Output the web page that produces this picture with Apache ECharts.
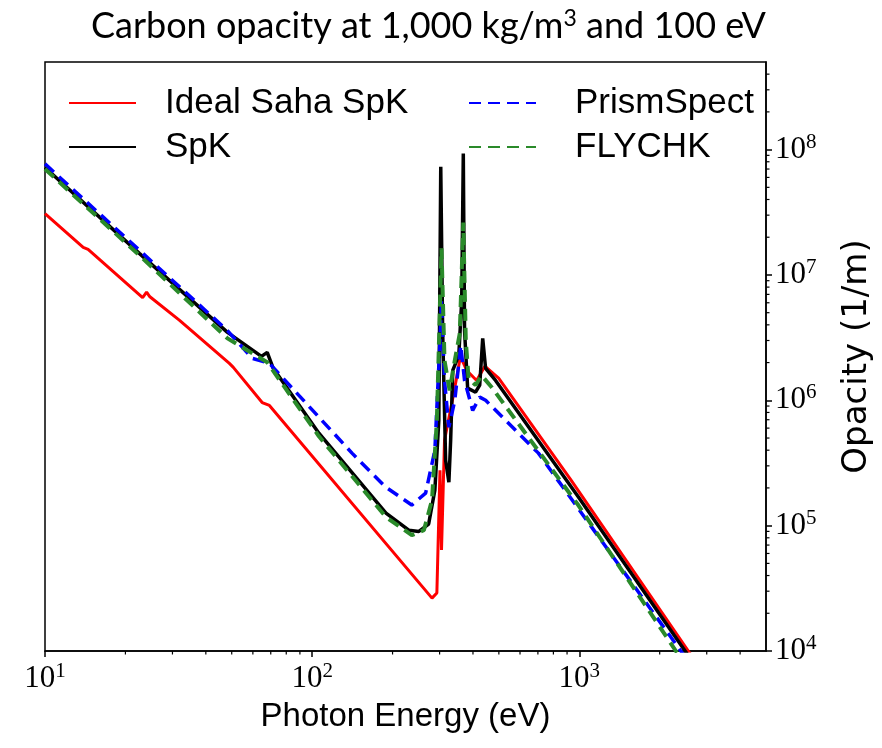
<!DOCTYPE html>
<html>
<head>
<meta charset="utf-8">
<title>Carbon opacity</title>
<script src="https://cdn.jsdelivr.net/npm/echarts@6.0.0/dist/echarts.min.js"></script>
<style>
  html, body { margin: 0; padding: 0; background: #fff; }
  #main { width: 882px; height: 748px; }
</style>
</head>
<body>
<div id="main"></div>
<script>
// photon energy (eV) / opacity (1/m)
const energySaha = [10, 13.9, 14.5, 23.2, 24.0, 24.7, 31.9, 49.0, 50.7, 65.0, 69.2, 281, 293, 301, 305, 313, 339, 359, 379, 413, 443, 499, 933, 2560, 5000];
const opacitySaha = [3.09e7, 1.66e7, 1.60e7, 6.6e6, 7.3e6, 6.7e6, 4.34e6, 1.97e6, 1.83e6, 9.6e5, 9.1e5, 2.64e4, 2.90e4, 2.77e5, 6.4e4, 4.8e5, 1.14e6, 2.24e6, 1.73e6, 1.44e6, 1.87e6, 1.50e6, 2.3e5, 1.0e4, 1.25e3];

const energySpK = [10, 22.6, 48.2, 64.6, 67.9, 71.5, 106, 189, 230, 251, 273, 288, 298, 303, 308, 316, 325, 330, 336, 354, 363, 368, 372, 382, 409, 424, 435, 446, 486, 991, 2490, 5000];
const opacitySpK = [7.2e7, 1.48e7, 3.48e6, 2.24e6, 2.41e6, 1.80e6, 5.46e5, 1.26e5, 9.2e4, 9.0e4, 1.03e5, 1.92e5, 6.9e5, 7.3e7, 3.6e6, 3.33e5, 2.22e5, 4.8e5, 1.73e6, 2.28e6, 6.27e6, 9.3e7, 3.6e6, 1.25e6, 1.16e6, 1.32e6, 3.12e6, 1.80e6, 1.44e6, 1.7e5, 1.0e4, 1.2e3];

const energyPrism = [10, 22.6, 48.2, 59.7, 69.2, 141, 188, 236, 266, 288, 301, 305, 313, 325, 342, 360, 372, 399, 424, 446, 703, 2400, 5000];
const opacityPrism = [7.7e7, 1.57e7, 3.6e6, 2.16e6, 1.97e6, 3.79e5, 2.04e5, 1.46e5, 1.82e5, 4.0e5, 3.0e6, 6.3e6, 1.44e6, 6.1e5, 1.0e6, 2.74e6, 1.44e6, 8.3e5, 1.06e6, 1.0e6, 3.79e5, 1.0e4, 1.17e3];

const energyFly = [10, 22.6, 48.2, 67.9, 106, 189, 236, 262, 281, 293, 305, 313, 327, 342, 357, 368, 376, 385, 409, 431, 470, 991, 2300, 5000];
const opacityFly = [7.0e7, 1.43e7, 3.12e6, 2.01e6, 5.16e5, 1.17e5, 8.4e4, 9.2e4, 1.60e5, 6.9e5, 1.63e7, 2.08e6, 1.20e6, 2.08e6, 3.42e6, 2.62e7, 3.0e6, 1.50e6, 1.32e6, 1.58e6, 1.27e6, 1.46e5, 1.0e4, 8.5e2];

// minor tick values of the two log axes
const minorTicksX = [20, 30, 40, 50, 60, 70, 80, 90, 200, 300, 400, 500, 600, 700, 800, 900, 2000, 3000, 4000];
const minorTicksY = [2e4, 3e4, 4e4, 5e4, 6e4, 7e4, 8e4, 9e4, 2e5, 3e5, 4e5, 5e5, 6e5, 7e5, 8e5, 9e5,
  2e6, 3e6, 4e6, 5e6, 6e6, 7e6, 8e6, 9e6, 2e7, 3e7, 4e7, 5e7, 6e7, 7e7, 8e7, 9e7, 2e8, 3e8, 4e8];

const xMin = 10, xMax = 5000, yMin = 1e4, yMax = 5e8;

function pairs(xs, ys) {
    return xs.map((x, i) => [x, ys[i]]);
}

const powLabel = {
    formatter: function (v) {
        return '{b|10}{s|' + Math.round(Math.log10(v)) + '}';
    },
    rich: {
        b: {fontSize: 31, fontFamily: 'Liberation Serif', color: '#000'},
        s: {fontSize: 21, fontFamily: 'Liberation Serif', color: '#000', padding: [0, 0, 15, 0]}
    }
};

const sansFont = 'Liberation Sans';

const chart = echarts.init(document.getElementById('main'), null, {renderer: 'canvas'});
chart.setOption({
    animation: false,
    backgroundColor: '#fff',
    title: {
        text: 'Carbon opacity at 1,000 kg/m{sup|3} and 100 eV',
        left: 86,
        top: 2,
        textStyle: {
            fontFamily: 'Lato',
            fontSize: 36,
            fontWeight: 'normal',
            color: '#000',
            rich: {
                sup: {fontFamily: 'Lato', fontSize: 23, color: '#000', padding: [0, 0, 16, 0]}
            }
        }
    },
    grid: {
        left: 45,
        right: 114,
        top: 62,
        bottom: 97,
        show: true,
        borderColor: '#000',
        borderWidth: 1.5
    },
    legend: [
        {
            data: ['Ideal Saha SpK', 'SpK'],
            orient: 'vertical',
            left: 63,
            top: 78,
            itemWidth: 67,
            itemHeight: 20,
            itemGap: 4,
            itemStyle: {opacity: 0},
            textStyle: {fontFamily: sansFont, fontSize: 35, color: '#000', lineHeight: 40, padding: [0, 0, 0, 24]}
        },
        {
            data: ['PrismSpect', 'FLYCHK'],
            orient: 'vertical',
            left: 463,
            top: 78,
            itemWidth: 67,
            itemHeight: 20,
            itemGap: 4,
            itemStyle: {opacity: 0},
            textStyle: {fontFamily: sansFont, fontSize: 35, color: '#000', lineHeight: 40, padding: [0, 0, 0, 34]}
        }
    ],
    xAxis: {
        type: 'log',
        logBase: 10,
        min: xMin,
        max: xMax,
        name: 'Photon Energy (eV)',
        nameLocation: 'middle',
        nameGap: 49,
        nameTextStyle: {fontFamily: sansFont, fontSize: 33, color: '#000'},
        axisLine: {lineStyle: {color: '#000', width: 1.5}},
        axisTick: {length: 6, lineStyle: {color: '#000', width: 1.5}},
        splitLine: {show: false},
        axisLabel: Object.assign({margin: 10, showMaxLabel: false}, powLabel)
    },
    yAxis: {
        type: 'log',
        logBase: 10,
        min: yMin,
        max: yMax,
        position: 'right',
        name: 'Opacity (1/m)',
        nameLocation: 'middle',
        nameRotate: 90,
        nameGap: 74,
        nameTextStyle: {fontFamily: 'DejaVu Sans', fontSize: 34, color: '#000'},
        axisLine: {show: true, lineStyle: {color: '#000', width: 1.5}},
        axisTick: {length: 6, lineStyle: {color: '#000', width: 1.5}},
        splitLine: {show: false},
        axisLabel: Object.assign({margin: 9, showMaxLabel: false}, powLabel)
    },
    series: [
        {
            name: 'Ideal Saha SpK',
            type: 'line',
            data: pairs(energySaha, opacitySaha),
            symbol: 'none',
            lineStyle: {color: '#ff0000', width: 3},
            itemStyle: {color: '#ff0000'}
        },
        {
            name: 'SpK',
            type: 'line',
            data: pairs(energySpK, opacitySpK),
            symbol: 'none',
            lineStyle: {color: '#000000', width: 3.5},
            itemStyle: {color: '#000000'}
        },
        {
            name: 'PrismSpect',
            type: 'line',
            data: pairs(energyPrism, opacityPrism),
            symbol: 'none',
            lineStyle: {color: '#0000ff', width: 3.5, type: [12, 7]},
            itemStyle: {color: '#0000ff'}
        },
        {
            name: 'FLYCHK',
            type: 'line',
            data: pairs(energyFly, opacityFly),
            symbol: 'none',
            lineStyle: {color: '#2a8a2a', width: 4, type: [12, 7]},
            itemStyle: {color: '#2a8a2a'}
        },
        {
            // minor ticks under the x axis
            type: 'custom',
            silent: true,
            clip: false,
            data: minorTicksX.map(v => [v, yMin]),
            renderItem: function (params, api) {
                const p = api.coord([api.value(0), api.value(1)]);
                return {
                    type: 'line',
                    shape: {x1: p[0], y1: p[1], x2: p[0], y2: p[1] + 3.5},
                    style: {stroke: '#000', lineWidth: 1.2}
                };
            }
        },
        {
            // minor ticks right of the y axis
            type: 'custom',
            silent: true,
            clip: false,
            data: minorTicksY.map(v => [xMax, v]),
            renderItem: function (params, api) {
                const p = api.coord([api.value(0), api.value(1)]);
                return {
                    type: 'line',
                    shape: {x1: p[0], y1: p[1], x2: p[0] + 3.5, y2: p[1]},
                    style: {stroke: '#000', lineWidth: 1.2}
                };
            }
        }
    ]
});
</script>
</body>
</html>
